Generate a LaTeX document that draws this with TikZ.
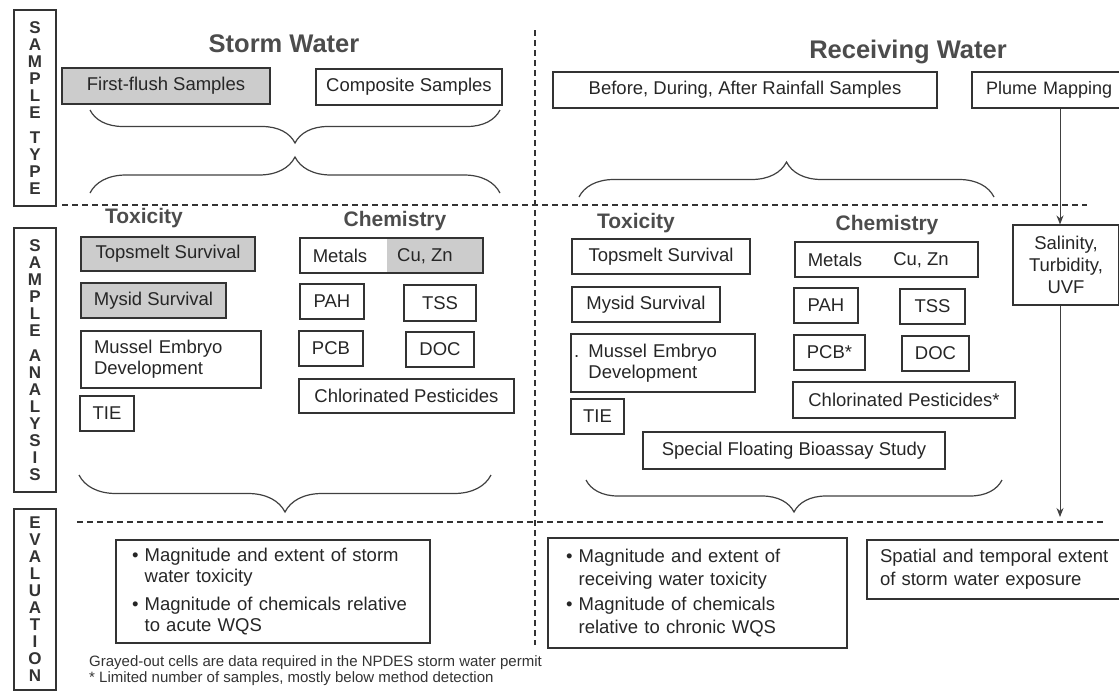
\documentclass[tikz,border=0pt]{standalone}
\usepackage{fontspec}
\setmainfont{Liberation Sans}
\usetikzlibrary{arrows.meta, decorations.pathreplacing}
\tikzset{
cell/.style={draw=black!80, line width=1.1pt, text=black!85, inner sep=0pt, font=\fontsize{18.5}{21}\selectfont},
grayed/.style={cell, fill=black!20},
bare/.style={text=black!85, inner sep=0pt, font=\fontsize{18.5}{21}\selectfont},
colhead/.style={text=black!70, font=\bfseries\fontsize{21}{24}\selectfont},
sidetitle/.style={text=black!70, font=\bfseries\fontsize{25.5}{28}\selectfont},
rowlabel/.style={draw=black!80, line width=1.3pt, minimum width=42pt, align=center, text=black!80, font=\bfseries\fontsize{17}{17}\selectfont},
divider/.style={dash pattern=on 6pt off 4pt, line width=1.2pt, draw=black!80},
curly/.style={decorate, decoration={brace, amplitude=#1}, line width=1.2pt, draw=black!75},
curlydown/.style={curly=#1, decoration={mirror}},
flow/.style={-{Stealth[length=9pt,width=7pt]}, line width=1pt, draw=black!75},
}
\newcommand{\bul}{\textbullet\ }
\newcommand{\nobul}{\hphantom{\textbullet\ }}

\begin{document}
\begin{tikzpicture}[x=1pt, y=-1pt]
\useasboundingbox (0,0) rectangle (1119,694);

    \node[rowlabel, minimum height=196pt] (stBox) at (35,108) {S\\A\\M\\P\\L\\E\\[8pt]T\\Y\\P\\E};
    \node[rowlabel, minimum height=264pt] (saBox) at (35,360) {S\\A\\M\\P\\L\\E\\[8pt]A\\N\\A\\L\\Y\\S\\I\\S};
    \node[rowlabel, minimum height=181pt] (evBox) at (35,599.5) {E\\V\\A\\L\\U\\A\\T\\I\\O\\N};

    \node[sidetitle] (storm) at (284,44) {Storm Water};
    \node[sidetitle] (recv) at (908,52) {Receiving Water};

    \node[grayed, minimum width=208pt, minimum height=36pt] (ffs) at (166,86) {First-flush Samples};
    \node[cell, minimum width=186pt, minimum height=36pt] (comp) at (409,87) {Composite Samples};
    \node[cell, minimum width=384pt, minimum height=36pt] (bdar) at (745,90) {Before, During, After Rainfall Samples};
    \node[cell, inner xsep=14pt, text width=150pt, minimum height=36pt, align=left, font=\fontsize{18}{21}\selectfont] (plume) at (1061,90) {Plume Mapping};

    \node[colhead] (tox1) at (144,218) {Toxicity};
    \node[colhead] (chem1) at (395,221) {Chemistry};
    \node[colhead] (tox2) at (636,223) {Toxicity};
    \node[colhead] (chem2) at (887,225) {Chemistry};

    \node[grayed, minimum width=174pt, minimum height=34pt] (ts1) at (168,254) {Topsmelt Survival};
    \node[grayed, minimum width=145pt, minimum height=35pt] (my1) at (153.5,300.5) {Mysid Survival};
    \node[cell, inner xsep=13pt, text width=154pt, minimum height=57pt, align=left] (mu1) at (171,359.5) {Mussel Embryo\\Development};
    \node[cell, minimum width=54pt, minimum height=35pt] (tie1) at (107,413.5) {TIE};

    \node[cell, minimum width=183pt, minimum height=35pt, path picture={\fill[black!20] ([xshift=87pt]path picture bounding box.north west) rectangle (path picture bounding box.south east);}] (met1) at (391.5,255.5) {};
    \node[bare] (met1a) at (340,256) {Metals};
    \node[bare] (met1b) at (425,256) {Cu, Zn};
    \node[cell, minimum width=64pt, minimum height=35pt] (pah1) at (332,301.5) {PAH};
    \node[cell, minimum width=72pt, minimum height=36pt] (tss1) at (440,303) {TSS};
    \node[cell, minimum width=64pt, minimum height=35pt] (pcb1) at (331,348.5) {PCB};
    \node[cell, minimum width=68pt, minimum height=35pt] (doc1) at (440,349.5) {DOC};
    \node[cell, minimum width=215pt, minimum height=34pt] (cp1) at (406.5,396) {Chlorinated Pesticides};

    \node[cell, minimum width=178pt, minimum height=35pt] (ts2) at (661,256.5) {Topsmelt Survival};
    \node[cell, minimum width=148pt, minimum height=35pt] (my2) at (646,304.5) {Mysid Survival};
    \node[cell, inner xsep=3pt, text width=178pt, minimum height=58pt, align=left] (mu2) at (663,363) {. Mussel Embryo\\\hphantom{. }Development};
    \node[cell, minimum width=53pt, minimum height=35pt] (tie2) at (597.5,416.5) {TIE};

    \node[cell, minimum width=183pt, minimum height=35pt] (met2) at (886.5,259.5) {};
    \node[bare] (met2a) at (835,260) {Metals};
    \node[bare] (met2b) at (921,260) {Cu, Zn};
    \node[cell, minimum width=64pt, minimum height=35pt] (pah2) at (826,305.5) {PAH};
    \node[cell, minimum width=65pt, minimum height=35pt] (tss2) at (932.5,306.5) {TSS};
    \node[cell, minimum width=71pt, minimum height=35pt] (pcb2) at (829.5,352.5) {PCB*};
    \node[cell, minimum width=67pt, minimum height=35pt] (doc2) at (935.5,353.5) {DOC};
    \node[cell, minimum width=222pt, minimum height=36pt] (cp2) at (904,400) {Chlorinated Pesticides*};
    \node[cell, minimum width=302pt, minimum height=37pt] (sfb) at (794,450.5) {Special Floating Bioassay Study};

    \node[cell, minimum width=106pt, minimum height=80pt, align=center, font=\fontsize{18.5}{22}\selectfont] (sal) at (1066,265) {Salinity,\\Turbidity,\\UVF};

    \node[cell, inner xsep=16pt, text width=282pt, minimum height=103pt, align=left, font=\fontsize{18.5}{21}\selectfont] (ev1) at (273,591.5)
        {\bul Magnitude and extent of storm\\\nobul water toxicity\\[7pt]\bul Magnitude of chemicals relative\\\nobul to acute WQS};
    \node[cell, inner xsep=18pt, text width=263pt, minimum height=110pt, align=left, font=\fontsize{18.5}{23}\selectfont] (ev2) at (697.5,593)
        {\bul Magnitude and extent of\\\nobul receiving water toxicity\\[2pt]\bul Magnitude of chemicals\\\nobul relative to chronic WQS};
    \node[cell, inner xsep=13pt, text width=242pt, minimum height=59pt, align=left, font=\fontsize{18.5}{23}\selectfont] (ev3) at (1001,569.5)
        {Spatial and temporal extent\\of storm water exposure};

    \node[bare, anchor=north west, align=left, text=black!80, font=\fontsize{15}{16.5}\selectfont] (notes) at (89,655)
        {Grayed-out cells are data required in the NPDES storm water permit\\* Limited number of samples, mostly below method detection};

    \draw[divider] (62,205) -- (1087,205);
    \draw[divider] (77,522) -- (1105,522);
    \draw[divider] (535,30) -- (535,645);

    \draw[curlydown=33pt] (90,110) -- (500,110);
    \draw[curly=36pt] (90,193) -- (500,193);
    \draw[curly=35pt] (579,197) -- (994,197);
    \draw[curlydown=37pt] (79,475) -- (491,475);
    \draw[curlydown=32pt] (586,480) -- (1002,480);

    \coordinate (salIn) at ([xshift=-6pt]sal.north);
    \coordinate (salEnd) at (1060,517);
    \draw[flow] (plume.south -| salIn) -- (salIn);
    \draw[flow] (salIn |- sal.south) -- (salEnd);
\end{tikzpicture}
\end{document}
